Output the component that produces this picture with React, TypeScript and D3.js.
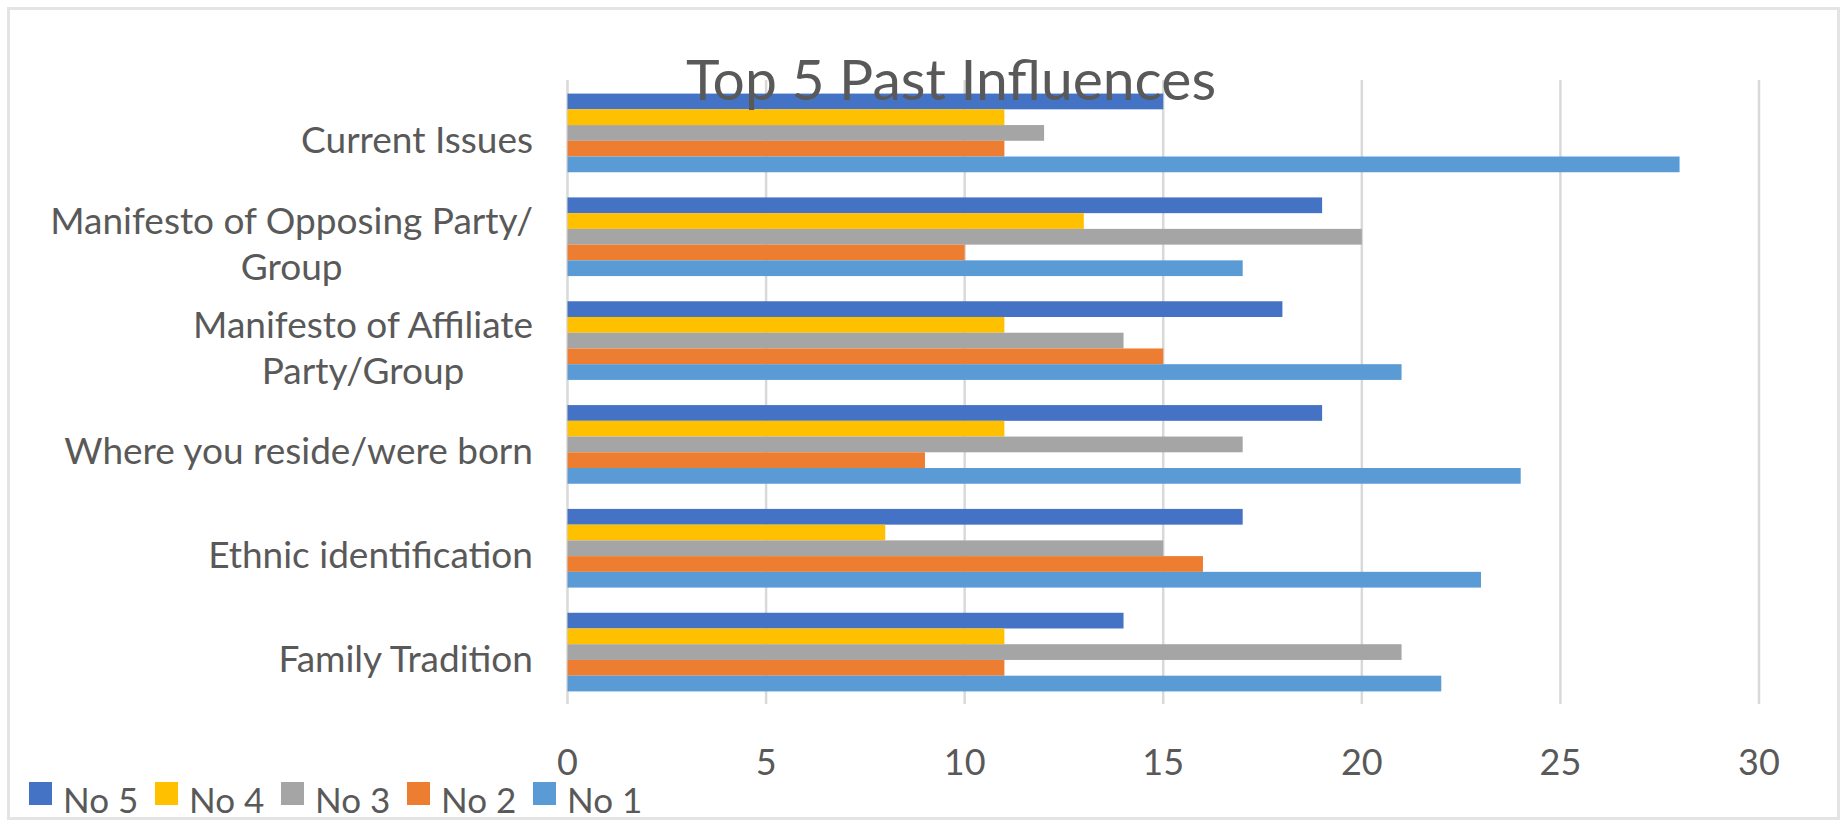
import React, { useEffect, useRef } from "react";
import * as d3 from "d3";

const categories = [
  "Current Issues",
  "Manifesto of Opposing Party/Group",
  "Manifesto of Affiliate Party/Group",
  "Where you reside/were born",
  "Ethnic identification",
  "Family Tradition",
];
const categoryLines = [
  ["Current Issues"],
  ["Manifesto of Opposing Party/", "Group"],
  ["Manifesto of Affiliate", "Party/Group"],
  ["Where you reside/were born"],
  ["Ethnic identification"],
  ["Family Tradition"],
];
const seriesNames = ["No 5", "No 4", "No 3", "No 2", "No 1"];
const no5 = [15, 19, 18, 19, 17, 14];
const no4 = [11, 13, 11, 11, 8, 11];
const no3 = [12, 20, 14, 17, 15, 21];
const no2 = [11, 10, 15, 9, 16, 11];
const no1 = [28, 17, 21, 24, 23, 22];
const seriesValues = [no5, no4, no3, no2, no1];
const seriesColors = ["#4472C4", "#FFC000", "#A5A5A5", "#ED7D31", "#5B9BD5"];
const xTicks = [0, 5, 10, 15, 20, 25, 30];
const title = "Top 5 Past Influences";

const W = 1843;
const H = 821;
const FONT = "Lato, 'Noto Sans', sans-serif";
const TEXT = "#595959";

export default function App() {
  const ref = useRef<SVGSVGElement>(null);

  useEffect(() => {
    const svg = d3.select(ref.current);
    svg.selectAll("*").remove();

    // outer border
    svg.append("rect")
      .attr("x", 8.5).attr("y", 8.5).attr("width", 1830).attr("height", 810)
      .attr("fill", "#fff").attr("stroke", "#e4e4e4").attr("stroke-width", 3);

    const x = d3.scaleLinear().domain([0, 30]).range([567.5, 1759]);
    const y = d3.scaleBand<string>().domain(categories).range([81, 704]).padding(0);
    const inner = d3.scaleBand<string>().domain(seriesNames)
      .range([0, y.bandwidth()]).paddingInner(0).paddingOuter(0.8);

    // gridlines
    svg.append("g").selectAll("line").data(xTicks).join("line")
      .attr("x1", (d) => x(d)).attr("x2", (d) => x(d))
      .attr("y1", 80).attr("y2", 704)
      .attr("stroke", "#d9d9d9").attr("stroke-width", 2.5);

    // bars
    const g = svg.append("g");
    seriesNames.forEach((s, si) => {
      g.append("g").selectAll("rect").data(seriesValues[si]).join("rect")
        .attr("x", x(0))
        .attr("y", (_d, i) => (y(categories[i]) as number) + (inner(s) as number))
        .attr("width", (d) => x(d) - x(0))
        .attr("height", inner.bandwidth())
        .attr("fill", seriesColors[si]);
    });

    // tick labels
    svg.append("g").selectAll("text").data(xTicks).join("text")
      .attr("x", (d) => x(d)).attr("y", 775)
      .attr("text-anchor", "middle")
      .attr("font-family", FONT).attr("font-size", 36).attr("fill", TEXT)
      .text((d) => String(d));

    // category labels
    const labelRight = 533;
    const lineH = 46;
    categoryLines.forEach((lines, i) => {
      const cy = (y(categories[i]) as number) + y.bandwidth() / 2;
      const first = cy + 20 - (lines.length - 1) * (lineH / 2);
      const grp = svg.append("g");
      const texts = lines.map((ln, li) =>
        grp.append("text")
          .attr("y", first + li * lineH)
          .attr("font-family", FONT).attr("font-size", 37).attr("fill", TEXT)
          .text(ln)
      );
      const widths = texts.map((t) => (t.node() as SVGTextElement).getComputedTextLength());
      const maxW = Math.max(...widths);
      const center = labelRight - maxW / 2;
      texts.forEach((t) => t.attr("x", center).attr("text-anchor", "middle"));
    });

    // legend
    const lg = svg.append("g");
    seriesNames.forEach((s, si) => {
      const lx = 29 + si * 126;
      lg.append("rect").attr("x", lx).attr("y", 782).attr("width", 23).attr("height", 23)
        .attr("fill", seriesColors[si]);
      lg.append("text").attr("x", lx + 34).attr("y", 813)
        .attr("font-family", FONT).attr("font-size", 35).attr("fill", TEXT)
        .text(s);
    });

    // title
    svg.append("text")
      .attr("x", 951).attr("y", 100).attr("text-anchor", "middle")
      .attr("font-family", FONT).attr("font-size", 57).attr("fill", TEXT)
      .text(title);
  }, []);

  return (
    <svg
      ref={ref}
      width={W}
      height={H}
      style={{ position: "absolute", left: 0, top: 0, background: "#fff" }}
    />
  );
}
